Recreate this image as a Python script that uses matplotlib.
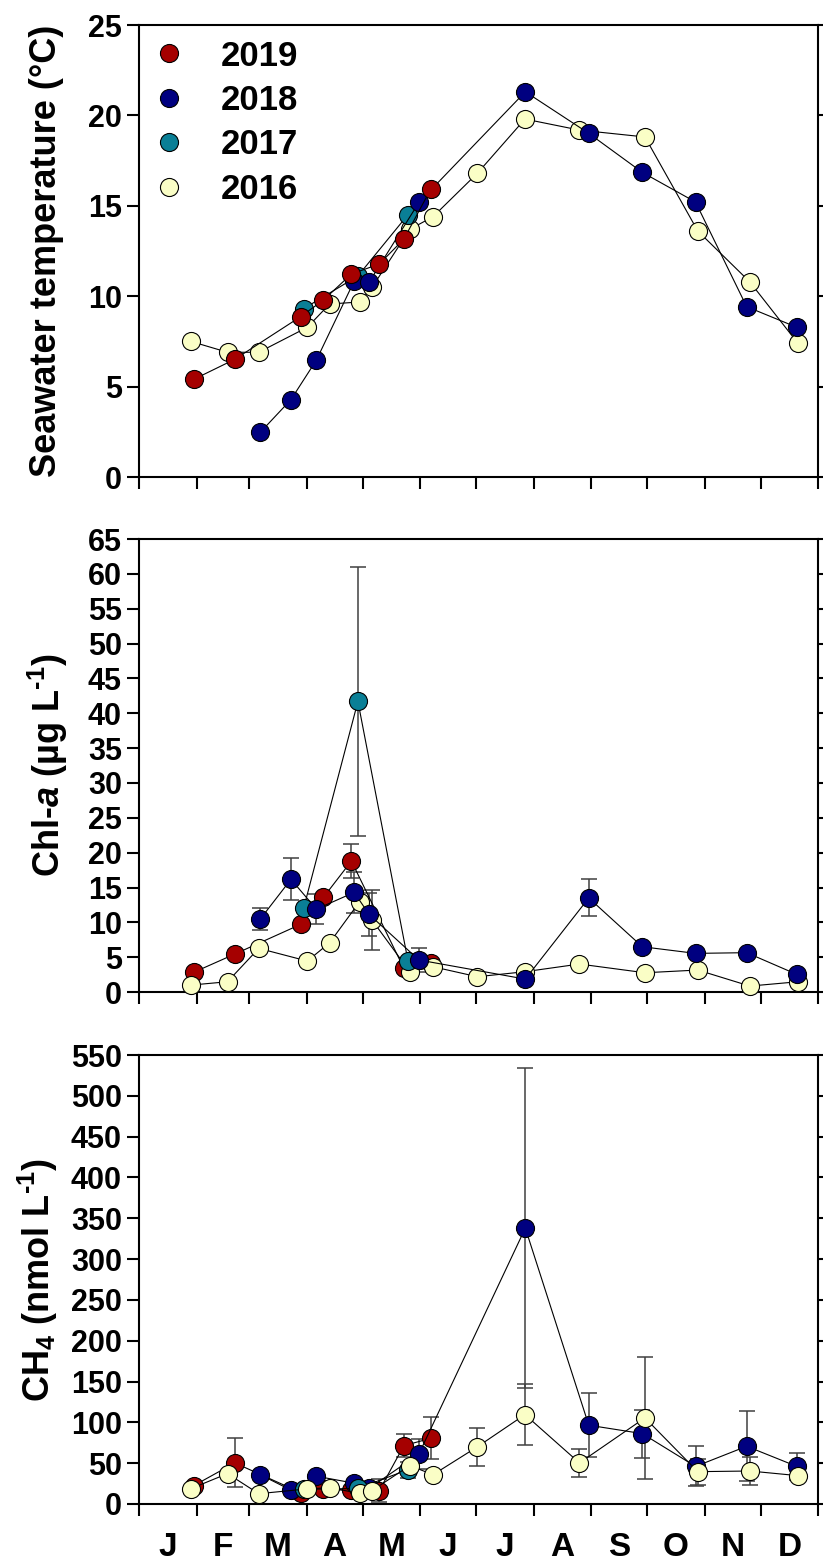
import matplotlib
matplotlib.use("Agg")
import matplotlib.pyplot as plt
import numpy as np
from matplotlib.lines import Line2D

# Sampling days (day of year) per year
days_2019 = [29.2, 51.3, 86.7, 99.0, 114.0, 129.0, 142.2, 156.8]
days_2018 = [65.0, 81.5, 95.2, 115.5, 123.5, 150.3, 207.5, 241.6, 270.4, 299.0, 326.5, 353.5]
days_2017 = [88.3, 117.5, 144.4]
days_2016 = [27.7, 47.4, 64.2, 90.3, 102.3, 118.4, 125.1, 145.4, 157.9, 181.7,
             207.3, 236.6, 271.8, 300.2, 328.2, 354.1]

# Seawater temperature (°C)
temp_2019 = [5.40, 6.51, 8.87, 9.79, 11.23, 11.78, 13.16, 15.95]
temp_2018 = [2.47, 4.28, 6.47, 10.84, 10.77, 15.19, 21.31, 19.01, 16.85, 15.21, 9.42, 8.28]
temp_2017 = [9.31, 11.12, 14.51]
temp_2016 = [7.50, 6.90, 6.90, 8.28, 9.57, 9.68, 10.49, 13.70, 14.40, 16.80,
             19.80, 19.19, 18.81, 13.61, 10.79, 7.39]

# Chl-a (ug/L) and its error
chl_2019 = [2.83, 5.45, 9.71, 13.6, 18.8, np.nan, 3.4, 4.1]
chl_err_2019 = [0, 0, 0, 0, 2.5, 0, 0, 0]
chl_2018 = [10.47, 16.17, 11.9, 14.3, 11.15, 4.6, 1.86, 13.5, 6.5, 5.55, 5.65, 2.53]
chl_err_2018 = [1.6, 3.0, 2.1, 2.9, 3.05, 1.7, 0, 2.65, 0, 0, 0, 0]
chl_2017 = [12.0, 41.7, 4.5]
chl_err_2017 = [0, 19.3, 0]
chl_2016 = [1.0, 1.48, 6.27, 4.45, 7.07, 12.96, 10.33, 2.92, 3.63, 2.2,
            2.92, 4.02, 2.77, 3.16, 0.86, 1.48]
chl_err_2016 = [0, 0, 0, 0, 0, 0, 4.3, 0, 0, 0, 0, 0, 0, 0, 0, 0]

# CH4 (nmol/L) and its error
ch4_2019 = [22.4, 50.3, 14.0, 18.0, 17.0, 16.5, 71.5, 80.5]
ch4_err_2019 = [0, 30, 0, 0, 0, 13.5, 14.4, 25.5]
ch4_2018 = [35.9, 17.0, 34.0, 25.5, 19.0, 61.3, 338.0, 96.5, 86.2, 46.0, 70.7, 46.0]
ch4_err_2018 = [0, 0, 0, 0, 0, 18, 195.5, 39, 29.5, 24.5, 43, 16.5]
ch4_2017 = [18.0, 19.0, 42.0]
ch4_err_2017 = [0, 0, 10]
ch4_2016 = [18.8, 37.2, 12.6, 18.5, 20.0, 13.0, 16.5, 47.0, 35.9, 70.0,
            109.5, 50.3, 105.5, 39.6, 40.4, 34.7]
ch4_err_2016 = [0, 0, 0, 0, 0, 0, 0, 0, 0, 23.5, 37, 17, 74.5, 16, 16.7, 0]

years = ["2019", "2018", "2017", "2016"]
month_starts = [0, 31, 59, 90, 120, 151, 181, 212, 243, 273, 304, 334, 365]
month_labels = ["J", "F", "M", "A", "M", "J", "J", "A", "S", "O", "N", "D"]

colors = {"2019": "#a50000", "2018": "#000080", "2017": "#0a7f96", "2016": "#fafec6"}
days = {"2019": days_2019, "2018": days_2018, "2017": days_2017, "2016": days_2016}

plt.rcParams["font.family"] = ["Liberation Sans", "DejaVu Sans"]
plt.rcParams["font.weight"] = "bold"
plt.rcParams["axes.labelweight"] = "bold"
plt.rcParams["mathtext.fontset"] = "custom"
plt.rcParams["mathtext.rm"] = "Liberation Sans:bold"
plt.rcParams["mathtext.bf"] = "Liberation Sans:bold"
plt.rcParams["mathtext.it"] = "Liberation Sans:italic:bold"
plt.rcParams["mathtext.sf"] = "Liberation Sans:bold"
plt.rcParams["mathtext.default"] = "rm"


def draw_panel(ax, values, errors, order):
    for z, yr in enumerate(order):
        x = np.array(days[yr], dtype=float)
        y = np.array(values[yr], dtype=float)
        ok = ~np.isnan(y)
        if errors is not None:
            e = np.array(errors[yr], dtype=float)
            m = ok & (e > 0)
            if m.any():
                ax.errorbar(x[m], y[m], yerr=e[m], fmt="none", ecolor="#404040",
                            elinewidth=1.1, capsize=6, capthick=1.1, zorder=2)
        ax.plot(x[ok], y[ok], "-", color="black", lw=0.8, zorder=3 + 2 * z)
        ax.plot(x[ok], y[ok], "o", ms=13, mfc=colors[yr], mec="black", mew=0.8,
                zorder=4 + 2 * z, clip_on=False)


def style_axes(ax, ymax, ystep, show_months):
    ax.set_xlim(0, 365)
    ax.set_ylim(0, ymax)
    ax.set_yticks(np.arange(0, ymax + 1, ystep))
    ax.set_xticks(month_starts)
    ax.set_xticklabels([])
    ax.set_xticks([(a + b) / 2 for a, b in zip(month_starts[:-1], month_starts[1:])], minor=True)
    if show_months:
        ax.set_xticklabels(month_labels, minor=True, fontsize=24, fontweight="bold")
    ax.tick_params(axis="x", which="minor", length=0, pad=20)
    ax.tick_params(axis="both", which="major", direction="out", length=8.5, width=1.5,
                   labelsize=22, pad=4)
    ax.tick_params(axis="y", right=True)
    for s in ax.spines.values():
        s.set_linewidth(1.5)


fig = plt.figure(figsize=(8.23, 15.66), dpi=100)
left, width = 0.1693, 0.825
ax1 = fig.add_axes([left, 0.6954, width, 0.2886])
ax2 = fig.add_axes([left, 0.3665, width, 0.2893])
ax3 = fig.add_axes([left, 0.0396, width, 0.2867])

# Temperature
temps = {"2019": temp_2019, "2018": temp_2018, "2017": temp_2017, "2016": temp_2016}
draw_panel(ax1, temps, None, ["2016", "2017", "2018", "2019"])
style_axes(ax1, 25, 5, False)
ax1.set_ylabel("Seawater temperature (°C)", fontsize=26)
ax1.yaxis.set_label_coords(-0.111, 0.5)

handles = [Line2D([], [], ls="none", marker="o", ms=13, mfc=colors[y], mec="black", mew=0.8)
           for y in years]
ax1.legend(handles, years, loc="upper left", bbox_to_anchor=(0.018, 0.968), frameon=False,
           fontsize=25, handlelength=1.0, handletextpad=1.0, labelspacing=0.33,
           borderaxespad=0, borderpad=0)

# Chl-a
chls = {"2019": chl_2019, "2018": chl_2018, "2017": chl_2017, "2016": chl_2016}
chl_errs = {"2019": chl_err_2019, "2018": chl_err_2018, "2017": chl_err_2017, "2016": chl_err_2016}
draw_panel(ax2, chls, chl_errs, ["2019", "2016", "2017", "2018"])
style_axes(ax2, 65, 5, False)
ax2.set_ylabel("Chl-$\\mathit{a}$ (µg L$^{\\text{-1}}$)", fontsize=26)
ax2.yaxis.set_label_coords(-0.102, 0.5)

# CH4
ch4s = {"2019": ch4_2019, "2018": ch4_2018, "2017": ch4_2017, "2016": ch4_2016}
ch4_errs = {"2019": ch4_err_2019, "2018": ch4_err_2018, "2017": ch4_err_2017, "2016": ch4_err_2016}
draw_panel(ax3, ch4s, ch4_errs, ["2019", "2018", "2017", "2016"])
style_axes(ax3, 550, 50, True)
ax3.set_ylabel("CH$_{\\mathrm{4}}$ (nmol L$^{\\text{-1}}$)", fontsize=26)
ax3.yaxis.set_label_coords(-0.117, 0.5)

fig.savefig("out.png", dpi=100)
